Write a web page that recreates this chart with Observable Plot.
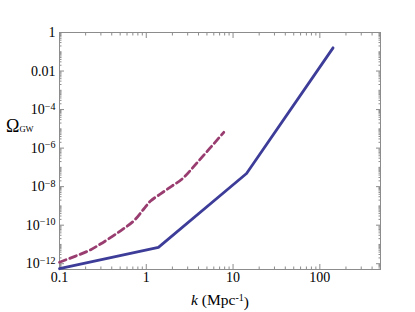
<!DOCTYPE html>
<html><head><meta charset="utf-8">
<script src="https://cdn.jsdelivr.net/npm/d3@7"></script>
<script src="https://cdn.jsdelivr.net/npm/@observablehq/plot@0.6"></script>
<style>body{margin:0;background:#fff} svg{display:block}</style>
</head><body><div id="chart"></div>
<script>
// Solid (blue) curve
const kSolid = [0.1, 1.38, 14.3, 142];
const omegaSolid = [5.5e-13, 7.1e-12, 4.8e-8, 0.16];
// Dashed (purple) curve
const kDashed = [0.1, 0.218, 0.296, 0.505, 0.72, 0.935, 1.12, 1.46, 1.99, 2.59, 4.03, 7.82];
const omegaDashed = [1.2e-12, 4.8e-12, 1.05e-11, 5.1e-11, 1.7e-10, 6.9e-10, 1.8e-9, 4.2e-9, 1.1e-8, 2.5e-8, 2.2e-7, 6.6e-6];
// Ticks
const xMajor = [0.1, 1, 10, 100];
const xMajorLabels = ["0.1", "1", "10", "100"];
const yMajor = [1, 1e-2, 1e-4, 1e-6, 1e-8, 1e-10, 1e-12];
const yMajorLabels = ["1", "0.01", "10^-4", "10^-6", "10^-8", "10^-10", "10^-12"];

const xDomain = [0.1, 500];
const yDomain = [Math.pow(10, -12.3), 1];

const xMinor = [];
for (let e = -1; e <= 2; e++) for (let m = 2; m <= 9; m++) { const v = m * Math.pow(10, e); if (v <= xDomain[1]) xMinor.push(v); }
const yMinor = [];
for (let e = -13; e <= 0; e++) for (let m = 1; m <= 9; m++) {
  const v = m * Math.pow(10, e);
  if (v >= yDomain[0] && v <= yDomain[1] && !(m === 1 && e % 2 === 0)) yMinor.push(v);
}

const solid = kSolid.map((k, i) => ({k, omega: omegaSolid[i]}));
const dashed = kDashed.map((k, i) => ({k, omega: omegaDashed[i]}));

const fmtX = d => xMajorLabels[xMajor.indexOf(d)] ?? "";
const fmtY = d => yMajorLabels[yMajor.indexOf(d)] ?? "";
const blank = () => "";
const gray = "#8c8c8c";
const font = "'Liberation Serif', 'Times New Roman', serif";

const chart = Plot.plot({
  width: 415, height: 312,
  marginLeft: 59, marginRight: 35, marginTop: 32, marginBottom: 43,
  x: {type: "log", domain: xDomain},
  y: {type: "log", domain: yDomain},
  style: {fontFamily: font, fontSize: "14px", color: "#000", background: "#fff"},
  marks: [
    Plot.axisX(xMinor, {anchor: "bottom", tickSize: -2.5, tickFormat: blank, stroke: gray, label: null}),
    Plot.axisX(xMinor, {anchor: "top", tickSize: -2.5, tickFormat: blank, stroke: gray, label: null}),
    Plot.axisX(xMajor, {anchor: "top", tickSize: -5, tickFormat: blank, stroke: gray, label: null}),
    Plot.axisX(xMajor, {anchor: "bottom", tickSize: -5, tickPadding: 8, tickFormat: fmtX, stroke: gray, fill: "#000", label: null, fontSize: 14}),
    Plot.axisY(yMinor, {anchor: "left", tickSize: -2.5, tickFormat: blank, stroke: gray, label: null}),
    Plot.axisY(yMinor, {anchor: "right", tickSize: -2.5, tickFormat: blank, stroke: gray, label: null}),
    Plot.axisY(yMajor, {anchor: "right", tickSize: -5, tickFormat: blank, stroke: gray, label: null}),
    Plot.axisY(yMajor, {anchor: "left", tickSize: -5, tickPadding: 9, tickFormat: fmtY, stroke: gray, fill: "#000", label: null, fontSize: 14}),
    Plot.frame({stroke: gray}),
    Plot.line(dashed, {x: "k", y: "omega", curve: "catmull-rom", stroke: "#993d70", strokeWidth: 2.8, strokeDasharray: "7,4"}),
    Plot.line(solid, {x: "k", y: "omega", stroke: "#3d3d99", strokeWidth: 2.8})
  ]
});
document.getElementById("chart").appendChild(chart);

const svg = d3.select(chart);
// superscript exponents in y tick labels
svg.selectAll("text").each(function() {
  const t = this.textContent;
  if (t.includes("^")) {
    const [base, exp] = t.split("^");
    const sel = d3.select(this);
    sel.text(null);
    sel.append("tspan").text(base);
    sel.append("tspan").attr("dy", "-0.45em").attr("font-size", "10px").text(exp.replace("-", "\u2212"));
  }
});
// y label
const yl = svg.append("text").attr("x", 6).attr("y", 132).attr("text-anchor", "start").attr("font-family", font).attr("fill", "#000");
yl.append("tspan").attr("font-size", "18px").text("\u03A9");
yl.append("tspan").attr("font-size", "8.5px").text("GW");
// x label
const xl = svg.append("text").attr("x", 220).attr("y", 305).attr("text-anchor", "middle").attr("font-family", font).attr("font-size", "15.5px").attr("fill", "#000");
xl.append("tspan").attr("font-style", "italic").text("k");
xl.append("tspan").text(" (Mpc");
xl.append("tspan").attr("dy", "-0.4em").attr("font-size", "10px").text("-1");
xl.append("tspan").attr("dy", "0.4em").text(")");
</script>
</body></html>
